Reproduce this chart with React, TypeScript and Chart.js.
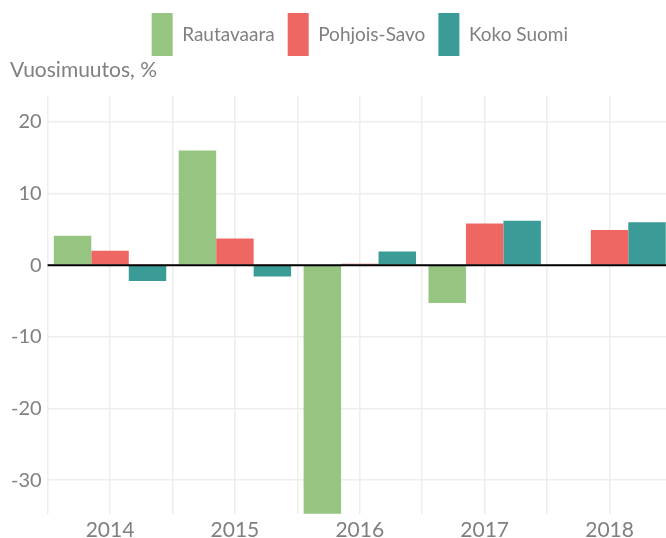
import React, { useEffect, useRef } from 'react';
import { Chart, registerables } from 'chart.js';

Chart.register(...registerables);

const years = ['2014', '2015', '2016', '2017', '2018'];
const rautavaara: (number | null)[] = [4.1, 16.0, -38.0, -5.3, null];
const pohjoisSavo = [2.0, 3.7, 0.2, 5.8, 4.9];
const kokoSuomi = [-2.2, -1.6, 1.9, 6.2, 6.0];
const seriesNames = ['Rautavaara', 'Pohjois-Savo', 'Koko Suomi'];
const seriesColors = ['#95c581', '#ee6762', '#3a9b97'];
const yTicks = [-30, -20, -10, 0, 10, 20];
const yMin = -34.7;
const yMax = 23.6;
const axisTitle = 'Vuosimuutos, %';

const FONT = 'Lato';
const TEXT = '#808080';
const GRID = '#eeeeee';

const zeroLine = {
  id: 'zeroLine',
  afterDatasetsDraw(chart: any) {
    const { ctx, chartArea, scales } = chart;
    const y = scales.y.getPixelForValue(0);
    ctx.save();
    ctx.strokeStyle = '#000000';
    ctx.lineWidth = 2;
    ctx.beginPath();
    ctx.moveTo(chartArea.left, y);
    ctx.lineTo(chartArea.right, y);
    ctx.stroke();
    ctx.restore();
  },
};

export default function App() {
  const ref = useRef<HTMLCanvasElement | null>(null);

  useEffect(() => {
    if (!ref.current) return;
    const data = [rautavaara, pohjoisSavo, kokoSuomi];
    const chart = new Chart(ref.current, {
      type: 'bar',
      data: {
        labels: years,
        datasets: seriesNames.map((name, i) => ({
          label: name,
          data: data[i],
          backgroundColor: seriesColors[i],
          borderWidth: 0,
          categoryPercentage: 0.9,
          barPercentage: 1.0,
        })),
      },
      options: {
        responsive: false,
        animation: false,
        layout: { padding: { left: 10, right: 0, top: 0, bottom: 1 } },
        plugins: {
          tooltip: { enabled: false },
          legend: {
            position: 'top',
            align: 'center',
            fullSize: false,
            labels: {
              boxWidth: 21,
              boxHeight: 43,
              padding: 13,
              color: TEXT,
              font: { family: FONT, size: 19 },
            },
          },
          title: {
            display: true,
            text: axisTitle,
            align: 'start',
            weight: 500,
            color: TEXT,
            font: { family: FONT, size: 21, weight: 'normal' },
            padding: { top: -8, bottom: 12.8 },
          },
        },
        scales: {
          x: {
            type: 'category',
            position: 'bottom',
            offset: true,
            grid: { color: GRID, lineWidth: 1.5, drawTicks: false, offset: true },
            border: { display: false },
            ticks: { color: TEXT, font: { family: FONT, size: 21 }, padding: 4 },
          },
          x2: {
            type: 'category',
            position: 'bottom',
            offset: true,
            grid: { color: GRID, lineWidth: 1.5, drawTicks: false, offset: false },
            border: { display: false },
            ticks: { display: false },
          },
          y: {
            type: 'linear',
            min: yMin,
            max: yMax,
            grid: { color: GRID, lineWidth: 1.5, drawTicks: false },
            border: { display: false },
            ticks: { color: TEXT, font: { family: FONT, size: 20 }, padding: 6 },
            afterBuildTicks: (axis: any) => {
              axis.ticks = yTicks.map((v) => ({ value: v }));
            },
            afterFit: (axis: any) => {
              axis.width = 37.6;
            },
          },
        },
      },
      plugins: [zeroLine],
    } as any);
    return () => chart.destroy();
  }, []);

  return (
    <div style={{ position: 'absolute', left: 0, top: 0, width: 666, height: 538, overflow: 'hidden', background: '#ffffff' }}>
      <canvas ref={ref} width={672} height={548} style={{ width: 672, height: 548, display: 'block' }} />
    </div>
  );
}
